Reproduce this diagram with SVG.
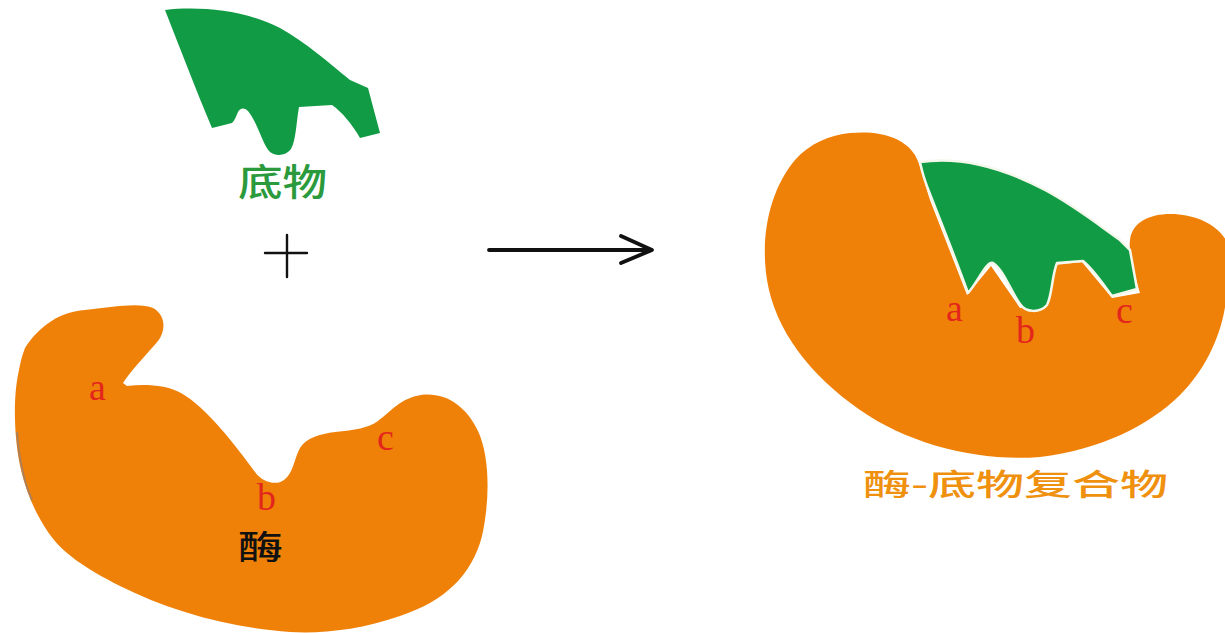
<svg xmlns="http://www.w3.org/2000/svg" width="1225" height="633" viewBox="0 0 1225 633">
  <style>
    .enzyme { fill: #f08108; }
    .substrate { fill: #119b45; }
    .site { font-family: "Liberation Serif", "DejaVu Serif", serif; font-size: 38px; fill: #e3261c; }
    .cjk { font-family: "Noto Sans CJK SC", "Noto Sans", sans-serif; font-weight: 500; }
    .sym { fill: none; stroke: #111; stroke-linecap: round; stroke-linejoin: round; }
  </style>
  <rect width="1225" height="633" fill="#ffffff"/>

  <!-- free substrate -->
  <g id="substrate">
    <path class="substrate" d="M165,10 C200,6 245,10 280,28 C305,42 328,62 350,80 L368,88 L380,133 L360,138 C352,124 342,112 332,105 L299,107 C296,124 296,140 291,149 C286,156 275,157 269,151 C262,142 257,122 248,111 C244,107 240,108 238,112 C236,117 234,121 232,123 L212,128 C196,90 180,48 165,10 Z"/>
    <text class="cjk" x="238" y="196" font-size="37" fill="#2a9a3c" textLength="89" lengthAdjust="spacingAndGlyphs">底物</text>
  </g>

  <!-- plus sign and reaction arrow -->
  <g id="connectors">
    <path class="sym" stroke-width="2.4" d="M265,253 H307 M287,235 V277"/>
    <path class="sym" stroke-width="3.8" d="M489,250 H651 M621,236 L652,250 L621,263"/>
  </g>

  <!-- free enzyme -->
  <g id="enzyme">
    <path class="enzyme" d="M25,348 C40,325 60,312 85,310 C110,307 140,302 153,308 C166,315 166,331 158,341 C148,353 131,370 123,383 L127,386 C146,384 166,385 181,393 C206,407 236,446 255,472 C262,482 276,486 284,480 C293,474 294,459 300,448 C306,438 320,434 335,432 C355,430 368,428 378,421 C391,411 401,398 421,395 C446,392 466,406 478,431 C490,457 490,500 482,536 C472,575 445,601 400,616 C360,630 320,634 290,632 C230,628 170,611 120,586 C85,568 62,553 48,532 C36,514 27,495 21,470 C14,440 13,400 18,375 C20,364 22,355 25,348 Z"/>
    <path d="M17,432 C19,460 24,482 32,500" fill="none" stroke="#7a7f9a" stroke-width="2" opacity="0.55"/>
    <text class="site" x="89" y="400">a</text>
    <text class="site" x="257" y="510">b</text>
    <text class="site" x="377" y="450">c</text>
    <text class="cjk" x="238" y="559" font-size="33" fill="#111111" textLength="45" lengthAdjust="spacingAndGlyphs">酶</text>
  </g>

  <!-- enzyme-substrate complex -->
  <g id="complex">
    <path class="enzyme" d="M850,133 C880,130 905,138 915,155 C922,168 925,185 930,200 L967,295 L991,266 L1020,308 L1046,308 L1055,265 L1082,262 L1112,298 L1140,293 C1135,275 1128,255 1130,240 C1132,222 1150,214 1170,214 C1195,214 1216,224 1226,240 L1226,300 C1222,335 1205,370 1180,395 C1150,425 1100,450 1040,457 C980,462 910,445 860,410 C810,375 775,330 767,280 C760,235 770,190 795,160 C810,143 830,135 850,133 Z"/>
    <path class="substrate" stroke="#f4f8ec" stroke-width="2.5" stroke-linejoin="round" d="M920,162 C960,156 1000,166 1045,190 C1075,206 1100,226 1120,240 L1130,250 L1137,289 L1112,296 C1103,284 1094,270 1083,261 L1057,263 C1052,275 1052,296 1047,305 C1040,313 1026,313 1020,304 C1011,292 1004,270 993,263 C986,261 978,282 968,293 C957,262 942,225 930,194 C925,182 922,172 920,162 Z"/>
    <text class="site" x="946" y="321">a</text>
    <text class="site" x="1016" y="343">b</text>
    <text class="site" x="1116" y="323">c</text>
    <text class="cjk" x="863" y="495" font-size="30" fill="#ef910e" textLength="305" lengthAdjust="spacingAndGlyphs">酶-底物复合物</text>
  </g>
</svg>
